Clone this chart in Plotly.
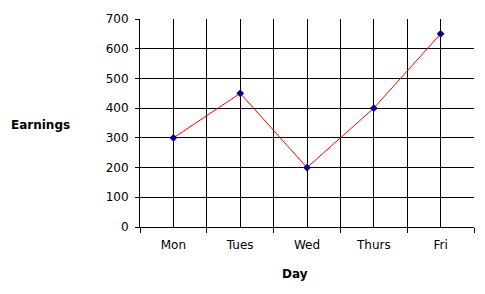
import plotly.graph_objects as go

days = ["Mon", "Tues", "Wed", "Thurs", "Fri"]
earnings = [300, 450, 200, 400, 650]
y_ticks = [0, 100, 200, 300, 400, 500, 600, 700]

xpos = list(range(len(days)))
bounds = [i - 0.5 for i in range(len(days) + 1)]

fig = go.Figure()
fig.add_trace(go.Scatter(
    x=xpos, y=earnings, mode="lines+markers",
    line=dict(color="#FF0000", width=1),
    marker=dict(color="#000080", size=6, symbol="diamond"),
    showlegend=False, hoverinfo="skip",
))

font = dict(family="DejaVu Sans, Verdana, sans-serif", size=12, color="#000000")

fig.update_layout(
    width=485, height=294,
    margin=dict(l=140, r=11, t=19, b=67),
    paper_bgcolor="white", plot_bgcolor="white",
    font=font,
    xaxis=dict(
        range=[-0.5, len(days) - 0.5],
        tickmode="array", tickvals=xpos, ticktext=days,
        ticks="", showgrid=True, gridcolor="#000000", gridwidth=1,
        showline=True, linecolor="#000000", linewidth=1,
        zeroline=False, ticklabelstandoff=7,
        minor=dict(tickvals=bounds, ticks="outside", ticklen=5,
                   tickcolor="#000000", showgrid=True,
                   gridcolor="#000000", gridwidth=1),
    ),
    yaxis=dict(
        range=[0, 700], tickmode="array", tickvals=y_ticks,
        ticks="outside", ticklen=4, tickcolor="#000000",
        showgrid=True, gridcolor="#000000", gridwidth=1,
        showline=True, linecolor="#000000", linewidth=1,
        zeroline=False, ticklabelstandoff=4,
    ),
    annotations=[
        dict(text="<b>Earnings</b>", xref="paper", yref="paper",
             x=0, xshift=-131, xanchor="left", y=0.49, yanchor="middle",
             showarrow=False, font=font),
        dict(text="<b>Day</b>", xref="paper", yref="paper",
             x=0.464, xanchor="center", y=0, yshift=-47, yanchor="middle",
             showarrow=False, font=font),
    ],
)

fig.write_html("out.html")
